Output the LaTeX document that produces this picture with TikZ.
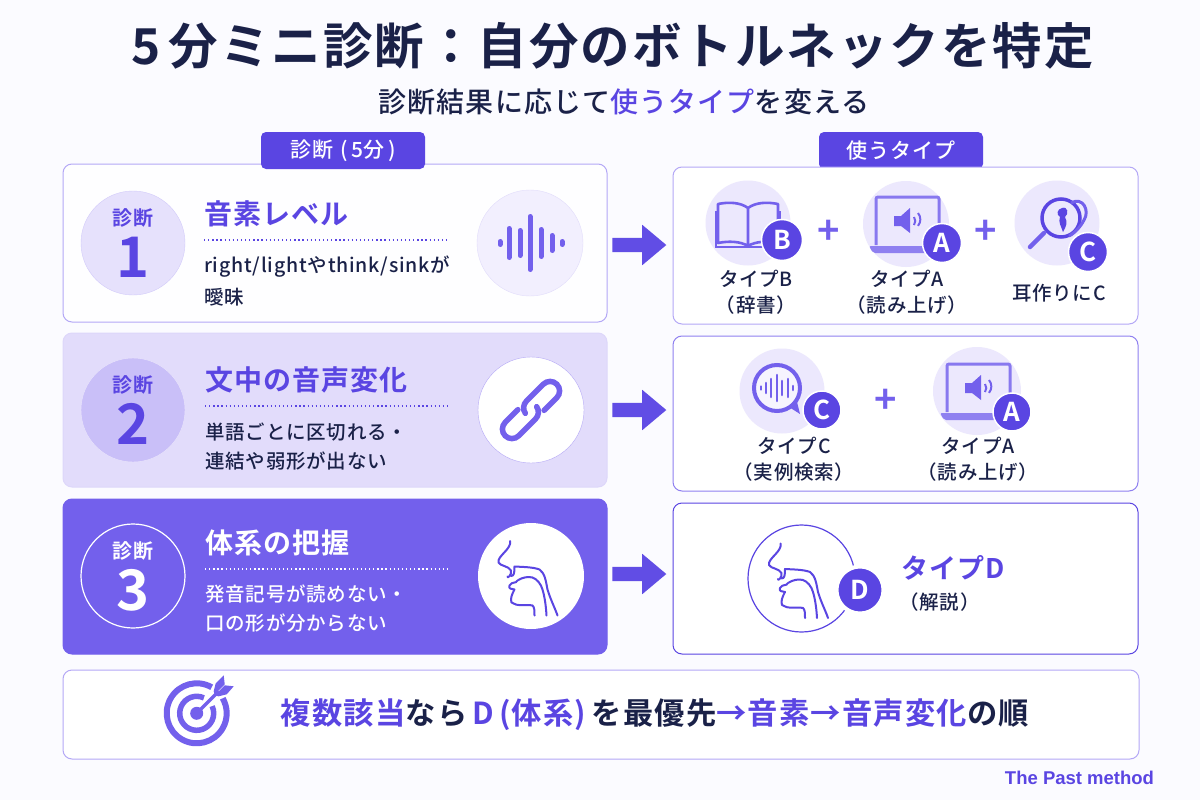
\documentclass[tikz,border=0pt]{standalone}
\usepackage{fontspec}
\usetikzlibrary{shapes.arrows}
\setmainfont{Noto Sans CJK JP}
\newfontfamily\jpr[LetterSpace=4]{Noto Sans CJK JP}
\newfontfamily\jpb[LetterSpace=4]{Noto Sans CJK JP Bold}
\newfontfamily\jpm[LetterSpace=4]{Noto Sans CJK JP Medium}
\newfontfamily\lat{Liberation Sans Bold}
\newcommand{\fsz}[1]{\fontsize{#1}{#1}\selectfont}
\definecolor{bg}{HTML}{FBFBFF}
\definecolor{pur}{HTML}{5A45E2}
\definecolor{pur2}{HTML}{7360EC}
\definecolor{dark}{HTML}{1A2148}
\definecolor{edge}{HTML}{B4A8F6}
\definecolor{halo}{HTML}{ECE8FD}
\definecolor{pale}{HTML}{E2DCFB}
\definecolor{circ1}{HTML}{E6E1FC}
\definecolor{circ2}{HTML}{C9BFF8}
\tikzset{
  panel/.style={rounded corners=9pt,line width=1pt},
  tabbox/.style={fill=pur,rounded corners=5pt,minimum width=164pt,minimum height=37pt,inner sep=0pt,text=white,font=\jpm\fsz{21}},
  badge/.style={circle,fill=pur,draw=white,line width=1.5pt,inner sep=0pt,text=white,font=\jpb\fsz{26}},
  label/.style={align=center,text=dark,font=\jpm\fsz{19.5},inner sep=0pt},
  plusm/.style={text=pur2,font=\jpb\fsz{38},inner sep=0pt},
  blockarrow/.style={single arrow,fill=pur!70!pur2,minimum width=40pt,minimum height=54pt,single arrow head extend=13pt,single arrow tip angle=80,inner xsep=0pt,inner ysep=7pt,text height=0pt,text depth=0pt},
  headline/.style={anchor=west,font=\jpb\fsz{28},inner sep=0pt},
  bodytext/.style={anchor=west,font=\jpm\fsz{19.5},inner sep=0pt},
  dotrule/.style={line width=1.2pt,dash pattern=on 1.3pt off 2.8pt},
  headicon/.pic={
    \draw[line width=2pt,line cap=round,line join=round,pur]
      (-21,-35) .. controls (-19,-27) and (-34,-20) .. (-32.5,-13.5)
      .. controls (-31,-10) and (-22,-10) .. (-20,-5.5)
      .. controls (-19,-1) and (-24,3) .. (-23.5,0.5)
      (-20,0) .. controls (-17,0) and (-16.5,-3) .. (-16.5,-9.5)
      .. controls (-8,-9) and (2,-9) .. (8.5,-6.5)
      .. controls (14,-3) and (15,6) .. (16.5,13.5)
      .. controls (20,25) and (24,32) .. (26.5,39.5)
      (-13.5,4.5) .. controls (-8,1) and (-3,0.5) .. (1.5,1.5)
      .. controls (6,3) and (10,8) .. (11.5,13.5)
      .. controls (14,22) and (15,31) .. (15.5,39.5)
      (-13.5,4.5) .. controls (-15,8) and (-19,5) .. (-21.5,9.5)
      .. controls (-23,13) and (-19,13) .. (-16.5,13.5)
      .. controls (-19,18) and (-21,23) .. (-19.5,26.5)
      .. controls (-14,31) and (-5,28) .. (1.5,29.5)
      .. controls (3.5,31) and (3.5,35) .. (3.5,39.5);
  },
  wave/.pic={
    \foreach \x/\h in {-30/1.5,-21/14.5,-10/12.5,0/26.5,11/13.5,22/7.5,32/1.5}
      \draw[pur2,line width=5pt,line cap=round] (\x,-\h) -- (\x,\h);
  },
  chain/.pic={
    \begin{scope}[rotate=45,pur2,line width=5.5pt,line cap=round]
      \draw (-9,-9.5) -- (-27,-9.5) arc[start angle=270,end angle=90,radius=9.5] -- (-3,9.5) arc[start angle=90,end angle=10,radius=9.5];
      \draw (9,9.5) -- (27,9.5) arc[start angle=90,end angle=-90,radius=9.5] -- (3,-9.5) arc[start angle=270,end angle=190,radius=9.5];
    \end{scope}
  },
  laptop/.pic={
    \draw[pur2!85,line width=3pt,rounded corners=2pt] (-30,21) -- (-30,-27) -- (33,-27) -- (33,21);
    \fill[pur2!80,rounded corners=2pt] (-37,22) -- (40,22) -- (36,29) -- (-33,29) -- cycle;
    \fill[pur2] (-12,-8) -- (-5,-8) -- (4,-16) -- (4,9) -- (-5,2) -- (-12,2) -- cycle;
    \draw[pur2,line width=2pt] (8,-7) arc[start angle=-35,end angle=35,radius=7] (12,-11) arc[start angle=-40,end angle=40,radius=10];
  },
  bookicon/.pic={
    \draw[pur2,line width=2.6pt,line join=round,line cap=round]
      (0,-15) .. controls (-8,-21) and (-20,-21) .. (-30,-19) -- (-30,20)
      .. controls (-20,18) and (-8,18) .. (0,23) .. controls (8,18) and (20,18) .. (30,20) -- (30,-19)
      .. controls (20,-21) and (8,-21) .. (0,-15) -- (0,23);
    \draw[pur2,line width=2pt] (-32,-12) -- (-32,24) -- (32,24) -- (32,-12);
  },
  earicon/.pic={
    \draw[pur,line width=3.5pt] (4,-5) circle[radius=19];
    \draw[pur2,line width=3pt,line join=round] (14,-20) .. controls (26,-27) and (33,-12) .. (27,-3) .. controls (24,3) and (18,10) .. (12,13);
    \fill[pur] (5,-15) .. controls (11,-17) and (12,-9) .. (8,-6) .. controls (11,-1) and (9,4) .. (6,9) .. controls (4,3) and (1,-1) .. (3,-6) .. controls (-1,-8) and (0,-14) .. (5,-15);
    \draw[pur2,line width=4.5pt,line cap=round] (-13,10) -- (-27,24);
  },
  bubble/.pic={
    \fill[white!50!halo] (0,0) circle[radius=23];
    \draw[pur2,line width=4pt] (0,0) circle[radius=23];
    \fill[pur2] (12,19) -- (23,26) -- (19,10) -- cycle;
    \foreach \x/\h in {-16/1.5,-11/5,-6/9,0/13,5/7,11/9,16/2}
      \draw[pur2,line width=2.6pt,line cap=round] (\x,-\h) -- (\x,\h);
  },
  target/.pic={
    \draw[pur2,line width=6pt] (15,-26) arc[start angle=-60,end angle=-390,radius=30];
    \draw[pur2,line width=5.5pt] (7.2,-15.4) arc[start angle=-65,end angle=-385,radius=17];
    \fill[pur2] (0,0) circle[radius=6.5];
    \draw[pur2,line width=3.5pt] (0,0) -- (22,-22);
    \fill[pur2] (18,-19) -- (28,-29) -- (27,-38) -- (19,-30) -- (17,-22) -- cycle;
    \fill[pur2] (18,-18) -- (28,-28) -- (37,-27) -- (30,-19) -- (22,-17) -- cycle;
  }
}
\begin{document}
\begin{tikzpicture}[x=1pt,y=-1pt]
\useasboundingbox (0,0) rectangle (1200,800);
\fill[bg] (0,0) rectangle (1200,800);
% Title
\node[inner sep=0pt,text=dark,font=\jpb\fsz{49.5}] (title) at (612.5,46) {5\,分ミニ診断：自分のボトルネックを特定};
\node[inner sep=0pt,text=dark,font=\jpm\fsz{28}] (subtitle) at (624,102) {診断結果に応じて\textcolor{pur}{使うタイプ}を変える};
% Left panels
\draw[panel,draw=edge,fill=white!97!pale] (63,164) rectangle (607,322);
\draw[panel,draw=pale!90!edge,fill=pale] (63,333) rectangle (607,487);
\draw[panel,draw=pur2,fill=pur2] (63,499) rectangle (607,654);
\node[tabbox] (tabL) at (343,150.5) {診断\,\,(\,5分\,)};
\node[tabbox] (tabR) at (901,150.5) {使うタイプ};
% Right panels
\draw[panel,draw=edge,fill=white] (673,167) rectangle (1138,324);
\draw[panel,draw=pur2!80,fill=white] (673,336) rectangle (1138,491);
\draw[panel,draw=pur,fill=white] (673,503) rectangle (1138,654);
\draw[panel,draw=edge,fill=white] (63,670) rectangle (1139,759);
% Row 1
\node[circle,draw=edge!60,fill=circ1,minimum size=104pt,inner sep=0pt] (c1) at (133,243) {};
\node[text=pur,font=\jpb\fsz{20},inner sep=0pt] (c1a) at (133,218) {診断};
\node[text=pur,font=\jpb\fsz{56},inner sep=0pt] (c1b) at (133,257) {1};
\node[headline,text=pur] (h1) at (204,214) {音素レベル};
\draw[dotrule,pur] (204,240) -- (448,240);
\node[bodytext,text=dark] (t1a) at (204,267) {right/lightやthink/sinkが};
\node[bodytext,text=dark] (t1b) at (204,297) {曖昧};
\node[circle,draw=edge!40,fill=halo!70,minimum size=106pt,inner sep=0pt] (i1) at (530,243) {};
\pic at (530,243) {wave};
% Row 2
\node[circle,draw=white!30!pale,fill=circ2,minimum size=104pt,inner sep=0pt] (c2) at (133,410) {};
\node[text=pur,font=\jpb\fsz{20},inner sep=0pt] (c2a) at (133,385) {診断};
\node[text=pur,font=\jpb\fsz{56},inner sep=0pt] (c2b) at (133,424) {2};
\node[headline,text=pur] (h2) at (205,380) {文中の音声変化};
\draw[dotrule,pur] (205,406) -- (448,406);
\node[bodytext,text=dark] (t2a) at (205,432) {単語ごとに区切れる・};
\node[bodytext,text=dark] (t2b) at (205,461) {連結や弱形が出ない};
\node[circle,draw=edge,fill=white,minimum size=106pt,inner sep=0pt] (i2) at (531,410) {};
\pic at (531,410) {chain};
% Row 3
\node[circle,draw=white,line width=1.2pt,minimum size=104pt,inner sep=0pt] (c3) at (133,576) {};
\node[text=white,font=\jpb\fsz{20},inner sep=0pt] (c3a) at (133,551) {診断};
\node[text=white,font=\jpb\fsz{56},inner sep=0pt] (c3b) at (133,590) {3};
\node[headline,text=white] (h3) at (205,543) {体系の把握};
\draw[dotrule,white] (205,569) -- (448,569);
\node[bodytext,text=white] (t3a) at (205,594) {発音記号が読めない・};
\node[bodytext,text=white] (t3b) at (205,623) {口の形が分からない};
\node[circle,fill=white,minimum size=106pt,inner sep=0pt] (i3) at (531,576) {};
\pic at (531,576) {headicon};
% Arrows
\node[blockarrow] (a1) at (635,245) {};
\node[blockarrow] (a2) at (635,410) {};
\node[blockarrow] (a3) at (635,574) {};
% Right row 1
\node[circle,fill=halo,minimum size=85pt,inner sep=0pt] (r1a) at (748,223) {};
\pic at (748,223) {bookicon};
\node[badge,minimum size=41pt] (bB) at (782,240) {B};
\node[plusm] (p1) at (829,232) {+};
\node[circle,fill=halo,minimum size=86pt,inner sep=0pt] (r1b) at (906,224) {};
\pic at (906,224) {laptop};
\node[badge,minimum size=39pt] (bA) at (942,243) {A};
\node[plusm] (p2) at (986,232) {+};
\node[circle,fill=halo,minimum size=85pt,inner sep=0pt] (r1c) at (1057,223) {};
\pic at (1057,223) {earicon};
\node[badge,minimum size=39pt] (bC) at (1088,252) {C};
\node[label] (l1) at (756,292.5) {タイプB\\[6pt]（辞書）};
\node[label] (l2) at (907,292.5) {タイプA\\[6pt]（読み上げ）};
\node[label] (l3) at (1059,293) {耳作りにC};
% Right row 2
\node[circle,fill=halo,minimum size=85pt,inner sep=0pt] (r2a) at (782,391) {};
\pic at (777,388) {bubble};
\node[badge,minimum size=38pt] (bC2) at (822,410) {C};
\node[plusm] (p3) at (886,401) {+};
\node[circle,fill=halo,minimum size=88pt,inner sep=0pt] (r2b) at (977,391) {};
\pic at (977,391) {laptop};
\node[badge,minimum size=38pt] (bA2) at (1012,412) {A};
\node[label] (l4) at (794,459.5) {タイプC\\[6pt]（実例検索）};
\node[label] (l5) at (978,459.5) {タイプA\\[6pt]（読み上げ）};
% Right row 3
\node[circle,draw=pur,line width=1.2pt,minimum size=107pt,inner sep=0pt] (r3) at (801.5,578.5) {};
\pic at (801.5,578.5) {headicon};
\node[badge,draw=white,line width=4pt,minimum size=47pt] (bD) at (860,590) {D};
\node[anchor=west,text=pur,font=\jpb\fsz{27},inner sep=0pt] (d1) at (901,568) {タイプD};
\node[anchor=west,text=dark,font=\jpm\fsz{19.5},inner sep=0pt] (d2) at (899,602) {（解説）};
% Bottom
\pic at (196.7,713.3) {target};
\node[inner sep=0pt,text=dark,font=\jpb\fsz{30.3}] (bot) at (655,715) {\textcolor{pur}{複数該当}なら\,\textcolor{pur}{D\,(体系)}\,を最優先\textcolor{pur}{→音素→音声変化}の順};
\node[inner sep=0pt,text=pur,font=\lat\fsz{18.5}] (brand) at (1079.5,778) {The Past method};
\end{tikzpicture}
\end{document}
